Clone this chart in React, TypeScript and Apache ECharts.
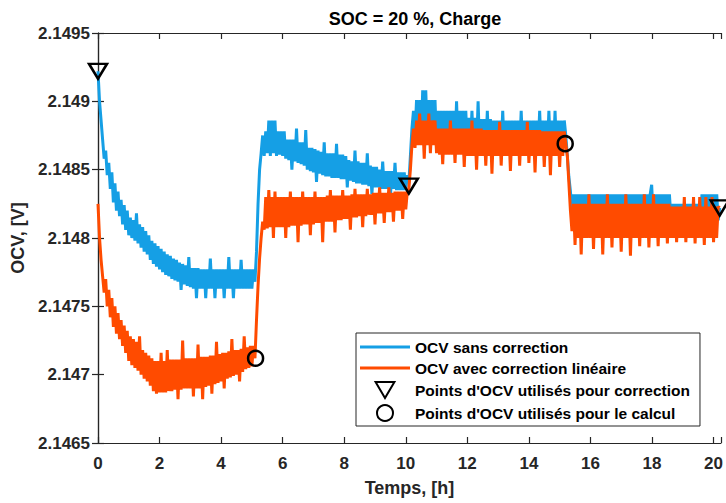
import React, { useEffect, useRef } from "react";
import * as echarts from "echarts";

// Time windows (h) of the four rest periods; each value list below is spread evenly over its window
const segTimes: number[][] = [
  [0, 5.1],
  [5.15, 10.1],
  [10.15, 15.2],
  [15.25, 20.2],
];

// OCV sans correction (V)
const blue1 = [2.14922, 2.149, 2.14886, 2.14872, 2.14858, 2.14864, 2.14846, 2.14855, 2.14836, 2.14848, 2.14826, 2.1484, 2.1482, 2.14834, 2.14816, 2.14828, 2.1481, 2.14824, 2.14806, 2.1482, 2.14802, 2.14815, 2.148, 2.14813, 2.14798, 2.14818, 2.14796, 2.1481, 2.14793, 2.14808, 2.1479, 2.14805, 2.14788, 2.14802, 2.14784, 2.14798, 2.14781, 2.14796, 2.14779, 2.14794, 2.14777, 2.14792, 2.14775, 2.1479, 2.14773, 2.14788, 2.14772, 2.14787, 2.1477, 2.14785, 2.14769, 2.14784, 2.14768, 2.14782, 2.14762, 2.14781, 2.14766, 2.1478, 2.14765, 2.14786, 2.14764, 2.14778, 2.14763, 2.14778, 2.14756, 2.14778, 2.14763, 2.14777, 2.14763, 2.14777, 2.14756, 2.14777, 2.14763, 2.14785, 2.14763, 2.14777, 2.14756, 2.14777, 2.14763, 2.14777, 2.14763, 2.14777, 2.14756, 2.14777, 2.14763, 2.14786, 2.14763, 2.14777, 2.14756, 2.14777, 2.14763, 2.14777, 2.14763, 2.14784, 2.14763, 2.14777, 2.14763, 2.14777, 2.14763, 2.14777, 2.14763, 2.14777, 2.14768];
const blue2 = [2.1479, 2.14825, 2.1485, 2.14862, 2.14875, 2.1486, 2.14878, 2.14862, 2.14886, 2.1486, 2.14886, 2.14862, 2.14886, 2.1486, 2.14878, 2.14861, 2.14878, 2.1486, 2.14878, 2.14858, 2.14872, 2.14857, 2.14872, 2.1485, 2.14872, 2.14856, 2.1488, 2.14855, 2.1487, 2.14854, 2.1487, 2.14853, 2.14879, 2.1485, 2.14866, 2.14849, 2.14866, 2.14848, 2.14865, 2.14841, 2.14864, 2.14847, 2.14863, 2.14846, 2.1487, 2.14845, 2.14862, 2.14845, 2.14862, 2.14844, 2.14862, 2.14844, 2.14869, 2.14844, 2.14861, 2.14843, 2.14861, 2.14843, 2.1486, 2.14837, 2.14857, 2.14842, 2.14856, 2.14841, 2.14864, 2.1484, 2.14856, 2.1484, 2.14855, 2.14839, 2.14855, 2.14839, 2.14862, 2.14838, 2.14853, 2.14832, 2.14852, 2.14837, 2.14852, 2.14837, 2.1485, 2.14836, 2.14856, 2.14836, 2.14849, 2.14836, 2.14849, 2.1483, 2.14849, 2.14836, 2.14855, 2.14835, 2.14848, 2.14835, 2.14848, 2.14835, 2.14848, 2.14835, 2.14846, 2.1484];
const blue3 = [2.1486, 2.1488, 2.14893, 2.14875, 2.14901, 2.14872, 2.14901, 2.1487, 2.14908, 2.14872, 2.14908, 2.1487, 2.14901, 2.14872, 2.14901, 2.1487, 2.14901, 2.14868, 2.14893, 2.14868, 2.14893, 2.14867, 2.14893, 2.14867, 2.14893, 2.14866, 2.14893, 2.14866, 2.14893, 2.14866, 2.149, 2.14866, 2.14893, 2.14866, 2.14893, 2.14865, 2.14893, 2.14865, 2.14888, 2.14865, 2.14893, 2.14865, 2.14888, 2.14865, 2.149, 2.14864, 2.14887, 2.14864, 2.14887, 2.14864, 2.14893, 2.14864, 2.14887, 2.14864, 2.14886, 2.14864, 2.14886, 2.14864, 2.14886, 2.14864, 2.14893, 2.14864, 2.14886, 2.14864, 2.14886, 2.14864, 2.14886, 2.14863, 2.14886, 2.14863, 2.14886, 2.14863, 2.14893, 2.14863, 2.14886, 2.14863, 2.14886, 2.14863, 2.14886, 2.14863, 2.14886, 2.14863, 2.14886, 2.14863, 2.14893, 2.14863, 2.14886, 2.14863, 2.14886, 2.14863, 2.14893, 2.14863, 2.14886, 2.14863, 2.14893, 2.14863, 2.14886, 2.14863, 2.14886, 2.14863, 2.14886, 2.14875];
const blue4 = [2.1486, 2.14845, 2.14835, 2.14822, 2.14832, 2.14815, 2.14832, 2.14812, 2.14832, 2.14815, 2.14832, 2.14815, 2.14832, 2.1481, 2.14832, 2.14815, 2.14832, 2.14815, 2.14832, 2.14815, 2.14832, 2.1481, 2.14832, 2.14815, 2.14832, 2.14815, 2.14832, 2.14815, 2.14832, 2.1481, 2.14832, 2.14815, 2.14832, 2.14815, 2.14832, 2.14815, 2.14832, 2.14815, 2.14832, 2.1481, 2.14832, 2.14815, 2.14832, 2.14815, 2.14832, 2.14815, 2.14832, 2.14815, 2.14832, 2.14815, 2.14832, 2.14815, 2.14832, 2.14815, 2.14832, 2.14815, 2.14832, 2.14839, 2.14815, 2.14832, 2.14815, 2.14832, 2.14815, 2.14832, 2.14815, 2.14832, 2.14815, 2.14832, 2.14815, 2.14832, 2.14815, 2.14825, 2.14813, 2.14825, 2.14813, 2.14825, 2.14813, 2.14825, 2.14813, 2.14825, 2.14813, 2.14825, 2.14813, 2.14825, 2.14813, 2.14825, 2.14813, 2.14825, 2.14813, 2.14825, 2.14813, 2.14832, 2.14813, 2.14832, 2.14813, 2.14832, 2.14813, 2.14832, 2.14813, 2.14832, 2.14813, 2.14832, 2.14813, 2.14822];

// OCV avec correction linéaire (V)
const orange1 = [2.14825, 2.148, 2.14784, 2.14772, 2.1476, 2.1477, 2.1475, 2.14762, 2.14742, 2.14756, 2.14735, 2.1475, 2.1473, 2.14745, 2.14726, 2.1474, 2.14721, 2.14736, 2.14716, 2.14732, 2.1471, 2.14728, 2.14707, 2.14726, 2.14705, 2.14724, 2.14703, 2.14728, 2.147, 2.14718, 2.14697, 2.14716, 2.14695, 2.14714, 2.14692, 2.14712, 2.14688, 2.1471, 2.14686, 2.1471, 2.14687, 2.14716, 2.14687, 2.1471, 2.14687, 2.14718, 2.14688, 2.14711, 2.14688, 2.14711, 2.14689, 2.14711, 2.14682, 2.14711, 2.14689, 2.14725, 2.1469, 2.14712, 2.1469, 2.14712, 2.1469, 2.14712, 2.14684, 2.14712, 2.1469, 2.14722, 2.1469, 2.14713, 2.14682, 2.14713, 2.14691, 2.14713, 2.14692, 2.14714, 2.14686, 2.14714, 2.14693, 2.14724, 2.14694, 2.14715, 2.14695, 2.14716, 2.1469, 2.14716, 2.14697, 2.14717, 2.14698, 2.14726, 2.14699, 2.14718, 2.147, 2.14718, 2.14695, 2.14719, 2.14702, 2.14728, 2.14704, 2.1472, 2.14705, 2.14721, 2.14706, 2.14721, 2.14712];
const orange2 = [2.1474, 2.14765, 2.14785, 2.148, 2.14812, 2.14806, 2.1483, 2.14807, 2.14835, 2.14808, 2.1483, 2.148, 2.14834, 2.14808, 2.1483, 2.14808, 2.1483, 2.14808, 2.1483, 2.148, 2.1483, 2.14808, 2.14834, 2.14809, 2.1483, 2.14809, 2.1483, 2.14797, 2.1483, 2.14809, 2.14834, 2.1481, 2.1483, 2.1481, 2.1483, 2.14802, 2.1483, 2.1481, 2.14834, 2.14811, 2.1483, 2.14811, 2.1483, 2.14797, 2.1483, 2.14812, 2.14831, 2.14812, 2.14835, 2.14812, 2.14831, 2.14804, 2.14831, 2.14813, 2.14831, 2.14813, 2.14835, 2.14814, 2.14831, 2.14814, 2.14831, 2.14806, 2.14832, 2.14815, 2.14836, 2.14815, 2.14832, 2.14816, 2.14832, 2.14808, 2.14832, 2.14816, 2.14836, 2.14817, 2.14832, 2.14817, 2.14833, 2.1481, 2.14833, 2.14818, 2.14837, 2.14818, 2.14833, 2.14811, 2.14833, 2.14819, 2.14837, 2.14819, 2.14833, 2.14812, 2.14834, 2.1482, 2.14834, 2.1482, 2.14834, 2.14814, 2.14834, 2.14821, 2.14834, 2.14836];
const orange3 = [2.1485, 2.14868, 2.1488, 2.14866, 2.14886, 2.14868, 2.14891, 2.14868, 2.14886, 2.14858, 2.14886, 2.14868, 2.14891, 2.14862, 2.14886, 2.14868, 2.14886, 2.14862, 2.1488, 2.14861, 2.1488, 2.14854, 2.1488, 2.14861, 2.1488, 2.14861, 2.14886, 2.14861, 2.1488, 2.14855, 2.1488, 2.14861, 2.1488, 2.14861, 2.1488, 2.14852, 2.1488, 2.1486, 2.1488, 2.1486, 2.14886, 2.1486, 2.1488, 2.1485, 2.1488, 2.1486, 2.1488, 2.1486, 2.14879, 2.14853, 2.14879, 2.1486, 2.14879, 2.14847, 2.14879, 2.1486, 2.14879, 2.1486, 2.14885, 2.14853, 2.14879, 2.1486, 2.14879, 2.1486, 2.14879, 2.14849, 2.14879, 2.1486, 2.14879, 2.1486, 2.14879, 2.14853, 2.14879, 2.1486, 2.14879, 2.1486, 2.14885, 2.14855, 2.14879, 2.1486, 2.14879, 2.14848, 2.14879, 2.1486, 2.14879, 2.1486, 2.14878, 2.14852, 2.14878, 2.1486, 2.14878, 2.14846, 2.14878, 2.1486, 2.14878, 2.1486, 2.14878, 2.14852, 2.14878, 2.1486, 2.14878, 2.14869];
const orange4 = [2.1486, 2.1484, 2.1482, 2.14805, 2.14825, 2.14795, 2.14825, 2.148, 2.14825, 2.14788, 2.14825, 2.148, 2.14825, 2.148, 2.14832, 2.148, 2.14825, 2.14792, 2.14825, 2.148, 2.14825, 2.148, 2.14825, 2.14788, 2.14825, 2.148, 2.14832, 2.148, 2.14825, 2.14793, 2.14825, 2.148, 2.14825, 2.148, 2.14825, 2.1479, 2.14825, 2.148, 2.14832, 2.148, 2.14825, 2.14787, 2.14825, 2.148, 2.14825, 2.148, 2.14825, 2.14794, 2.14825, 2.148, 2.14832, 2.148, 2.14825, 2.14793, 2.14825, 2.148, 2.14832, 2.148, 2.14825, 2.14794, 2.14825, 2.148, 2.14825, 2.148, 2.14825, 2.14796, 2.14825, 2.148, 2.14823, 2.148, 2.14823, 2.14797, 2.14823, 2.148, 2.14823, 2.148, 2.1483, 2.14797, 2.14823, 2.148, 2.14823, 2.148, 2.1483, 2.14796, 2.14823, 2.148, 2.1483, 2.148, 2.14823, 2.14795, 2.1483, 2.148, 2.14823, 2.148, 2.1483, 2.14797, 2.14823, 2.148, 2.14823, 2.14822];

// Marker points
const corrT = [0, 10.1, 20.2];
const corrV = [2.14922, 2.14838, 2.14822];
const calcT = [5.12, 15.18];
const calcV = [2.14712, 2.14869];

const xTicks = [0, 2, 4, 6, 8, 10, 12, 14, 16, 18, 20];
const yTicks = [2.1465, 2.147, 2.1475, 2.148, 2.1485, 2.149, 2.1495];

const FONT = "'Liberation Sans', Arial, Helvetica, sans-serif";
const AXIS_COLOR = "#262626";
const BLUE = "#159fe5";
const ORANGE = "#ff4b00";

function build(segs: number[][]): number[][] {
  const out: number[][] = [];
  segs.forEach((vals, s) => {
    const [t0, t1] = segTimes[s];
    const n = vals.length;
    vals.forEach((v, k) => out.push([t0 + ((t1 - t0) * k) / (n - 1), v]));
  });
  return out;
}

export default function App() {
  const ref = useRef<HTMLDivElement>(null);
  useEffect(() => {
    if (!ref.current) return;
    const chart = echarts.init(ref.current, undefined, { renderer: "svg" });
    const xMin = xTicks[0];
    const xMax = 20.24;
    const yMin = yTicks[0];
    const yMax = yTicks[yTicks.length - 1];
    const fmtY = (v: number) => String(parseFloat(v.toFixed(4)));
    const baseAxis = {
      axisLine: { show: true, lineStyle: { color: AXIS_COLOR, width: 1.2 } },
      axisTick: { show: true, inside: true, length: 6, lineStyle: { color: AXIS_COLOR, width: 1.2 } },
      splitLine: { show: false },
    };
    const labelStyle = { color: AXIS_COLOR, fontFamily: FONT, fontWeight: "bold" as const, fontSize: 17 };
    const triangle = "path://M0,0L20,0L10,17Z";
    const lineIcon = "path://M0,0L50,0L50,3L0,3Z";
    const markerStyle = { color: "transparent", borderColor: "#000", borderWidth: 2.5, opacity: 1 };
    chart.setOption({
      animation: false,
      backgroundColor: "#fff",
      title: {
        text: "SOC = 20 %, Charge",
        left: 410,
        top: 5,
        textAlign: "center",
        textStyle: { fontFamily: FONT, fontWeight: "bold", fontSize: 18, color: "#000" },
      },
      grid: { left: 98, right: 3, top: 33, bottom: 60 },
      legend: {
        orient: "vertical",
        left: 356,
        top: 333,
        padding: [6, 10, 4, 4],
        itemWidth: 50,
        itemHeight: 16,
        itemGap: 5,
        borderColor: AXIS_COLOR,
        borderWidth: 1,
        backgroundColor: "#fff",
        textStyle: { fontFamily: FONT, fontWeight: "bold", fontSize: 15.5, lineHeight: 16, color: "#000" },
        data: [
          { name: "OCV sans correction", icon: lineIcon },
          { name: "OCV avec correction linéaire", icon: lineIcon },
          { name: "Points d'OCV utilisés pour correction" },
          { name: "Points d'OCV utilisés pour le calcul" },
        ],
      },
      xAxis: [
        {
          type: "value",
          min: xMin,
          max: xMax,
          interval: 2,
          ...baseAxis,
          axisLabel: { ...labelStyle, margin: 12, formatter: (v: number) => (xTicks.includes(v) ? String(v) : "") },
          name: "Temps, [h]",
          nameLocation: "middle",
          nameGap: 36,
          nameTextStyle: { fontFamily: FONT, fontWeight: "bold", fontSize: 18, color: AXIS_COLOR },
        },
        {
          type: "value",
          position: "top",
          min: xMin,
          max: xMax,
          interval: 2,
          ...baseAxis,
          axisLabel: { show: false },
        },
      ],
      yAxis: [
        {
          type: "value",
          min: yMin,
          max: yMax,
          interval: 0.0005,
          ...baseAxis,
          axisLabel: { ...labelStyle, margin: 8, formatter: fmtY },
          name: "OCV, [V]",
          nameLocation: "middle",
          nameRotate: 90,
          nameGap: 66,
          nameTextStyle: { fontFamily: FONT, fontWeight: "bold", fontSize: 18, color: AXIS_COLOR },
        },
        {
          type: "value",
          position: "right",
          min: yMin,
          max: yMax,
          interval: 0.0005,
          ...baseAxis,
          axisLabel: { show: false },
        },
      ],
      series: [
        {
          name: "OCV sans correction",
          type: "line",
          data: build([blue1, blue2, blue3, blue4]),
          symbol: "none",
          lineStyle: { color: BLUE, width: 3 },
          itemStyle: { color: BLUE },
        },
        {
          name: "OCV avec correction linéaire",
          type: "line",
          data: build([orange1, orange2, orange3, orange4]),
          symbol: "none",
          lineStyle: { color: ORANGE, width: 3 },
          itemStyle: { color: ORANGE },
        },
        {
          name: "Points d'OCV utilisés pour correction",
          type: "scatter",
          clip: false,
          symbol: triangle,
          symbolSize: [18, 15],
          data: corrT.map((t, i) => [t, corrV[i]]),
          itemStyle: markerStyle,
          z: 5,
        },
        {
          name: "Points d'OCV utilisés pour le calcul",
          type: "scatter",
          clip: false,
          symbol: "circle",
          symbolSize: 15,
          data: calcT.map((t, i) => [t, calcV[i]]),
          itemStyle: markerStyle,
          z: 5,
        },
      ],
    });
    return () => chart.dispose();
  }, []);
  return (
    <div
      ref={ref}
      style={{ position: "absolute", left: 0, top: 0, width: 726, height: 503, background: "#fff" }}
    />
  );
}
